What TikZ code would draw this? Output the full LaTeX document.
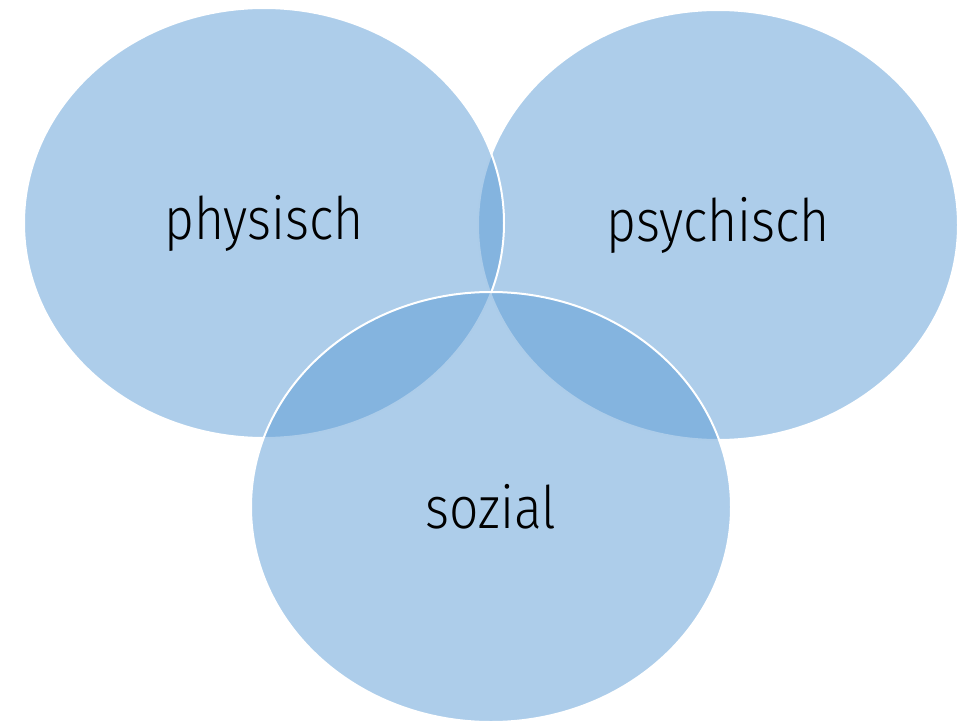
\documentclass[tikz,border=0pt]{standalone}
\usepackage{fontspec}
\setmainfont{Fira Sans}[UprightFont=* Light, FakeStretch=0.88]
\usetikzlibrary{shapes.geometric}
\definecolor{kreis}{HTML}{5B9BD5}

\begin{document}
\begin{tikzpicture}[x=0.75pt, y=-0.75pt,
  bereich/.style={ellipse, draw=white, line width=1.5pt, fill=kreis, fill opacity=0.5, text opacity=1,
    minimum width=360pt, minimum height=322.5pt, inner sep=0pt, font=\fontsize{44}{50}\selectfont}]
\useasboundingbox (0,0) rectangle (960,724);
\node[bereich](psych) at (718,225){psychisch};
\node[bereich](phys) at (264,223){physisch};
\node[bereich](soz) at (491,507){sozial};
\end{tikzpicture}
\end{document}
